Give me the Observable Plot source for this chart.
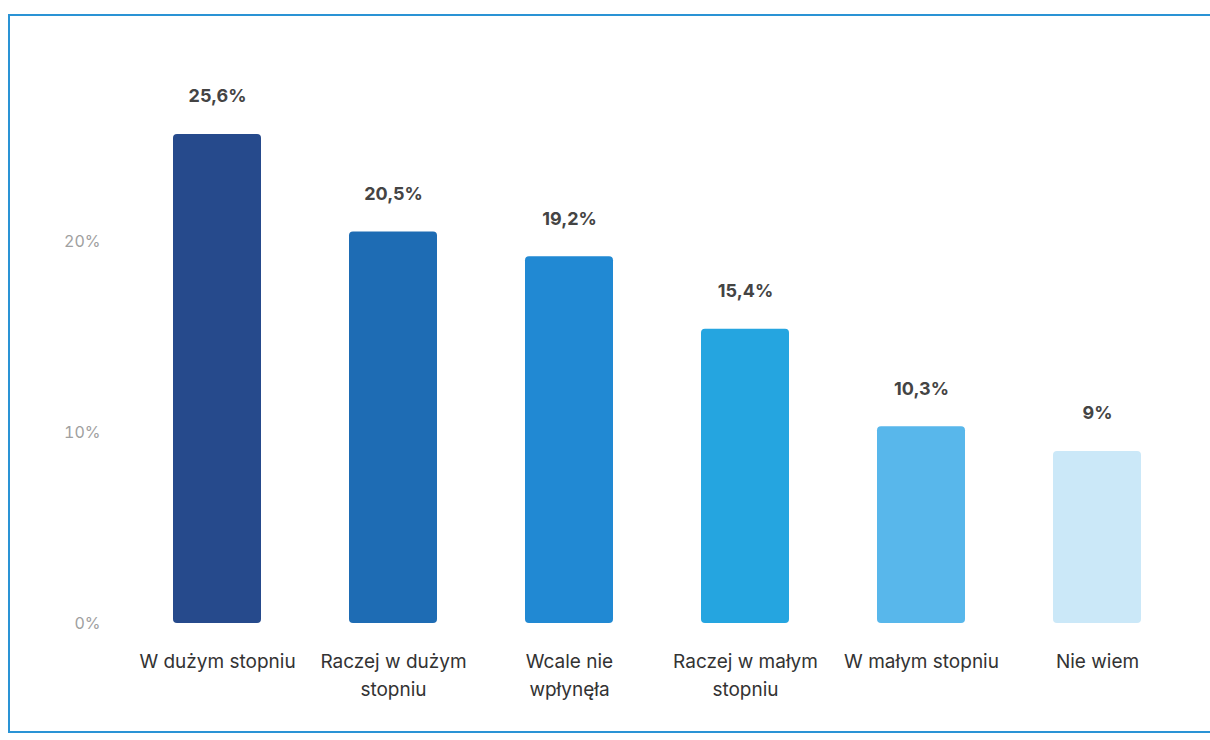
<!DOCTYPE html>
<html>
<head>
<meta charset="utf-8">
<script src="https://cdn.jsdelivr.net/npm/d3@7"></script>
<script src="https://cdn.jsdelivr.net/npm/@observablehq/plot@0.6"></script>
<style>
  html, body { margin: 0; padding: 0; background: #fff; width: 1210px; height: 740px; overflow: hidden; }
  #frame { position: absolute; left: 8px; top: 14px; width: 1230px; height: 719px;
           border-top: 2px solid #2a93d5; border-left: 2px solid #2a93d5; border-bottom: 2px solid #2a93d5; box-sizing: border-box; }
  #chart { position: absolute; left: 0; top: 0; }
</style>
</head>
<body>
<div id="frame"></div>
<div id="chart"></div>
<script>
const categories = ["W dużym stopniu", "Raczej w dużym stopniu", "Wcale nie wpłynęła", "Raczej w małym stopniu", "W małym stopniu", "Nie wiem"];
const tickLabels = ["W dużym stopniu", "Raczej w dużym\nstopniu", "Wcale nie\nwpłynęła", "Raczej w małym\nstopniu", "W małym stopniu", "Nie wiem"];
const values = [25.6, 20.5, 19.2, 15.4, 10.3, 9];
const valueLabels = ["25,6%", "20,5%", "19,2%", "15,4%", "10,3%", "9%"];
const colors = ["#264a8c", "#1e6cb4", "#2189d3", "#25a5e0", "#58b7eb", "#cbe8f8"];
const yTicks = [0, 10, 20];

const data = categories.map((c, i) => ({category: c, value: values[i], label: valueLabels[i], color: colors[i]}));

const chart = Plot.plot({
  width: 1210,
  height: 740,
  marginLeft: 127,
  marginRight: 23,
  marginTop: 50,
  marginBottom: 117,
  style: {fontFamily: "Inter, 'Noto Sans', sans-serif", background: "transparent"},
  x: {domain: categories, paddingInner: 0.5, paddingOuter: 0.25, label: null},
  y: {domain: [0, 30], label: null},
  marks: [
    Plot.axisY({ticks: yTicks, tickFormat: d => d + "%", tickSize: 0, tickPadding: 27, fontSize: 16, fill: "#a0a0a0", label: null}),
    Plot.axisX({tickSize: 0, tickPadding: 25, fontSize: 19, fill: "#333", lineHeight: 1.47,
                tickFormat: d => tickLabels[categories.indexOf(d)], label: null}),
    Plot.barY(data, {x: "category", y: "value", fill: "color", rx: 4}),
    Plot.text(data, {x: "category", y: "value", text: "label", dy: -38, fontSize: 18, fontWeight: "bold", fill: "#444"})
  ]
});
document.getElementById("chart").appendChild(chart);
</script>
</body>
</html>
